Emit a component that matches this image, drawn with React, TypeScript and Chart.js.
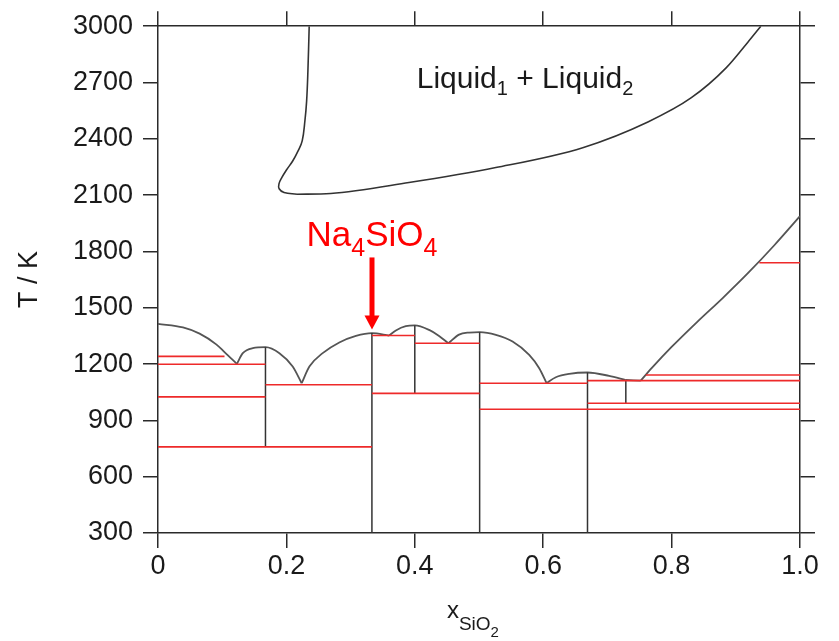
import { useEffect, useRef } from 'react';
import { Chart, registerables } from 'chart.js';

Chart.register(...registerables);

const FONT = '"Liberation Sans", Arial, Helvetica, sans-serif';

// Axis tick labels
const xTickLabels = ['0', '0.2', '0.4', '0.6', '0.8', '1.0'];
const yTickLabels = ['300', '600', '900', '1200', '1500', '1800', '2100', '2400', '2700', '3000'];

// Liquidus branches (x = mole fraction SiO2, T in K)
const dome1X = [0, 0.0389, 0.0648, 0.0907, 0.1036, 0.1228];
const dome1T = [1414, 1395, 1362, 1305, 1264, 1201];
const dome2X = [0.1228, 0.1321, 0.1477, 0.1674, 0.1891, 0.2098, 0.2238];
const dome2T = [1201, 1258, 1285, 1290, 1258, 1187, 1098];
const dome3X = [0.2238, 0.2358, 0.2565, 0.2824, 0.3083, 0.3332, 0.3601];
const dome3T = [1098, 1187, 1258, 1315, 1350, 1365, 1352];
const dome4X = [0.3601, 0.3705, 0.386, 0.4, 0.4223, 0.4378, 0.4523];
const dome4T = [1352, 1379, 1402, 1406, 1382, 1350, 1311];
const dome5X = [0.4523, 0.4689, 0.4845, 0.501, 0.5263, 0.5523, 0.5782, 0.5938, 0.6052];
const dome5T = [1311, 1357, 1368, 1370, 1356, 1320, 1249, 1178, 1099];
const dome6X = [0.6052, 0.6197, 0.6405, 0.669, 0.7027, 0.7287];
const dome6T = [1099, 1130, 1148, 1155, 1137, 1115];
const dome7X = [0.7287, 0.752];
const dome7T = [1115, 1112];
const silicaX = [0.752, 0.77, 0.8, 0.84, 0.88, 0.92, 0.96, 1.0];
const silicaT = [1112, 1182, 1291, 1425, 1553, 1688, 1833, 1988];

// Liquid miscibility gap: left (Na2O-rich) branch and right (SiO2-rich) branch
const gapLeftX = [0.2355, 0.2335, 0.2315, 0.2288, 0.2246, 0.2182, 0.2098, 0.2003, 0.193, 0.1884, 0.1887, 0.1963, 0.2165];
const gapLeftT = [3000, 2761, 2601, 2495, 2389, 2336, 2282, 2235, 2194, 2160, 2134, 2114, 2105];
const gapRightX = [0.2165, 0.269, 0.3909, 0.5262, 0.6616, 0.7631, 0.8308, 0.8849, 0.9188, 0.939];
const gapRightT = [2105, 2109, 2167, 2247, 2353, 2490, 2619, 2778, 2915, 3000];

// Compound lines (vertical)
const vertX = [0.1674, 0.3332, 0.4, 0.501, 0.669, 0.7287];
const vertLow = [759, 300, 1044, 300, 300, 991];
const vertHigh = [1290, 1365, 1406, 1370, 1155, 1115];

// Invariant / transition lines (red horizontals)
const redT = [1241, 1199, 1025, 759, 1090, 1352, 1044, 1311, 1098, 959, 1112, 1142, 991, 1740];
const redFrom = [0, 0, 0, 0, 0.1674, 0.3332, 0.3332, 0.4, 0.501, 0.501, 0.669, 0.7598, 0.669, 0.9367];
const redTo = [0.1036, 0.1674, 0.1674, 0.3332, 0.3332, 0.4, 0.501, 0.501, 0.669, 1.0, 1.0, 1.0, 1.0, 1.0];

// Annotation anchors (data coordinates)
const liquidLabelX = 0.403;
const liquidLabelT = 2669;
const na4X = 1 / 3;
const na4LabelT = 1830;
const arrowTopT = 1768;
const arrowHeadBaseT = 1459;
const arrowTipT = 1384;
const xTitleStartX = 0.45;

const CURVE = '#555555';
const AXIS = '#2a2a2a';
const RED = '#ee2a2a';

function pts(xs: number[], ys: number[]) {
  return xs.map((v, i) => ({ x: v, y: ys[i] }));
}

const annotate = {
  id: 'annotate',
  afterDraw(chart: any) {
    const { ctx, scales, chartArea } = chart;
    const x = scales.x;
    const y = scales.y;
    ctx.save();
    ctx.textAlign = 'left';
    ctx.textBaseline = 'alphabetic';

    // Liquid1 + Liquid2
    ctx.fillStyle = '#1a1a1a';
    let px = x.getPixelForValue(liquidLabelX);
    const py = y.getPixelForValue(liquidLabelT);
    const parts: [string, number, number][] = [
      ['Liquid', 30, 0],
      ['1', 20, 7],
      [' + Liquid', 30, 0],
      ['2', 20, 7],
    ];
    for (const [t, s, dy] of parts) {
      ctx.font = `${s}px ${FONT}`;
      ctx.fillText(t, px, py + dy);
      px += ctx.measureText(t).width;
    }

    // Na4SiO4 label
    ctx.fillStyle = '#ff0000';
    const naParts: [string, number, number][] = [
      ['Na', 35, 0],
      ['4', 25, 10],
      ['SiO', 35, 0],
      ['4', 25, 10],
    ];
    let total = 0;
    for (const [t, s] of naParts) {
      ctx.font = `${s}px ${FONT}`;
      total += ctx.measureText(t).width;
    }
    const cx = x.getPixelForValue(na4X);
    let nx = cx - total / 2;
    const ny = y.getPixelForValue(na4LabelT);
    for (const [t, s, dy] of naParts) {
      ctx.font = `${s}px ${FONT}`;
      ctx.fillText(t, nx, ny + dy);
      nx += ctx.measureText(t).width;
    }

    // Arrow
    const yTop = y.getPixelForValue(arrowTopT);
    const yBase = y.getPixelForValue(arrowHeadBaseT);
    const yTip = y.getPixelForValue(arrowTipT);
    ctx.strokeStyle = '#ff0000';
    ctx.lineWidth = 5;
    ctx.beginPath();
    ctx.moveTo(cx, yTop);
    ctx.lineTo(cx, yBase + 1);
    ctx.stroke();
    ctx.beginPath();
    ctx.moveTo(cx - 7.5, yBase);
    ctx.lineTo(cx + 7.5, yBase);
    ctx.lineTo(cx, yTip);
    ctx.closePath();
    ctx.fill();

    // x-axis title: x_{SiO_2}
    ctx.fillStyle = '#1a1a1a';
    let tx = x.getPixelForValue(xTitleStartX);
    const ty = chartArea.bottom + 85;
    const tParts: [string, number, number][] = [
      ['x', 24, 0],
      ['SiO', 19, 12],
      ['2', 15, 19],
    ];
    for (const [t, s, dy] of tParts) {
      ctx.font = `${s}px ${FONT}`;
      ctx.fillText(t, tx, ty + dy);
      tx += ctx.measureText(t).width;
    }
    ctx.restore();
  },
};

export default function App() {
  const ref = useRef<HTMLCanvasElement>(null);

  useEffect(() => {
    const curveDs = (xs: number[], ys: number[]) => ({
      data: pts(xs, ys),
      showLine: true,
      pointRadius: 0,
      borderColor: CURVE,
      borderWidth: 1.8,
      cubicInterpolationMode: 'monotone',
      fill: false,
    });
    const datasets: any[] = [];
    for (let i = 0; i < redT.length; i++) {
      datasets.push({
        data: [
          { x: redFrom[i], y: redT[i] },
          { x: redTo[i], y: redT[i] },
        ],
        showLine: true,
        pointRadius: 0,
        borderColor: RED,
        borderWidth: 1.6,
        tension: 0,
      });
    }
    for (let i = 0; i < vertX.length; i++) {
      datasets.push({
        data: [
          { x: vertX[i], y: vertLow[i] },
          { x: vertX[i], y: vertHigh[i] },
        ],
        showLine: true,
        pointRadius: 0,
        borderColor: '#333333',
        borderWidth: 1.5,
        tension: 0,
      });
    }
    datasets.push(curveDs(dome1X, dome1T));
    datasets.push(curveDs(dome2X, dome2T));
    datasets.push(curveDs(dome3X, dome3T));
    datasets.push(curveDs(dome4X, dome4T));
    datasets.push(curveDs(dome5X, dome5T));
    datasets.push(curveDs(dome6X, dome6T));
    datasets.push(curveDs(dome7X, dome7T));
    datasets.push(curveDs(silicaX, silicaT));
    datasets.push({
      data: pts(gapLeftX, gapLeftT),
      showLine: true,
      pointRadius: 0,
      borderColor: '#333333',
      borderWidth: 1.6,
      tension: 0.4,
      fill: false,
    });
    datasets.push({ ...curveDs(gapRightX, gapRightT), borderColor: '#333333', borderWidth: 1.6 });

    const grid = {
      display: true,
      drawOnChartArea: false,
      drawTicks: true,
      tickLength: 15,
      color: AXIS,
      lineWidth: 1.5,
    };
    const border = { display: true, color: AXIS, width: 1.5 };
    const tickFont = { family: FONT, size: 27 };

    const chart = new Chart(ref.current as HTMLCanvasElement, {
      type: 'scatter',
      data: { datasets },
      options: {
        responsive: false,
        animation: false,
        events: [],
        layout: { padding: 0, autoPadding: false },
        plugins: { legend: { display: false }, tooltip: { enabled: false } },
        scales: {
          x: {
            type: 'linear',
            position: 'bottom',
            min: 0,
            max: 1,
            grid,
            border,
            ticks: {
              stepSize: 0.2,
              font: tickFont,
              color: '#1a1a1a',
              padding: 2,
              maxRotation: 0,
              autoSkip: false,
              callback: (_v: any, i: number) => xTickLabels[i],
            },
            afterFit: (s: any) => {
              s.height = 108;
            },
          },
          x2: {
            type: 'linear',
            position: 'top',
            min: 0,
            max: 1,
            grid,
            border,
            ticks: { display: false, stepSize: 0.2 },
            afterFit: (s: any) => {
              s.height = 25;
            },
          },
          y: {
            type: 'linear',
            position: 'left',
            min: 300,
            max: 3000,
            grid,
            border,
            ticks: {
              stepSize: 300,
              font: tickFont,
              color: '#1a1a1a',
              padding: 10,
              autoSkip: false,
              callback: (_v: any, i: number) => yTickLabels[i],
            },
            title: {
              display: true,
              text: 'T / K',
              font: { family: FONT, size: 27 },
              color: '#1a1a1a',
              padding: { top: 13, bottom: 0 },
            },
            afterFit: (s: any) => {
              s.width = 158;
            },
          },
          y2: {
            type: 'linear',
            position: 'right',
            min: 300,
            max: 3000,
            grid,
            border,
            ticks: { display: false, stepSize: 300 },
            afterFit: (s: any) => {
              s.width = 39;
            },
          },
        },
      },
      plugins: [annotate],
    } as any);
    return () => chart.destroy();
  }, []);

  return (
    <div style={{ position: 'absolute', left: 0, top: 0, width: 839, height: 641, background: '#ffffff' }}>
      <canvas ref={ref} width={839} height={641} style={{ display: 'block' }} />
    </div>
  );
}
